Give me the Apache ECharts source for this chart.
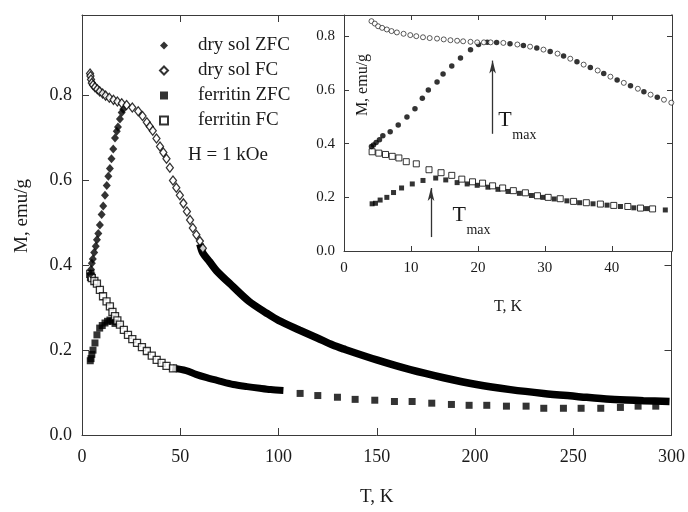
<!DOCTYPE html>
<html>
<head>
<meta charset="utf-8">
<script src="https://cdn.jsdelivr.net/npm/echarts@6/dist/echarts.min.js"></script>
<style>
  html, body { margin: 0; padding: 0; background: #fff; }
  #chart { width: 688px; height: 512px; }
</style>
</head>
<body>
<div id="chart"></div>
<script>
// main panel, low-T markers [T, M]
const mainDryZfc = [[4.3,0.38],[4.6,0.39],[5,0.405],[5.5,0.415],[6.2,0.43],[7,0.445],[7.6,0.46],[8.3,0.475],[9.1,0.495],[10,0.52],[10.8,0.54],[11.7,0.565],[12.6,0.588],[13.4,0.61],[14.2,0.628],[15,0.651],[15.9,0.674],[16.8,0.70],[17.7,0.716],[18.3,0.726],[19.3,0.745],[20.2,0.76],[21,0.768]];
const mainDryFc = [[4.1,0.852],[4.3,0.846],[4.6,0.838],[5,0.83],[5.6,0.825],[6.6,0.82],[7.8,0.815],[9,0.81],[10.5,0.805],[12,0.8],[13.9,0.795],[16,0.79],[18,0.786],[20.2,0.782],[22.7,0.778],[25.6,0.772],[28.6,0.763],[30.8,0.752],[33,0.737],[34.5,0.727],[36,0.717],[37.9,0.699],[39.7,0.68],[41.4,0.666],[43,0.651],[44.7,0.63],[46.3,0.60],[48,0.583],[49.8,0.565],[51.6,0.546],[53.4,0.527],[55,0.507],[56.4,0.488],[58.2,0.472],[60,0.457],[61.5,0.44]];
// dense part of the dry sol curve, drawn as a thick band
const mainDryTail = [[60,0.45],[61.5,0.429],[65,0.408],[68.5,0.387],[76.8,0.35],[85,0.315],[94,0.287],[100,0.27],[110.8,0.247],[120,0.228],[127.6,0.212],[133,0.203],[150,0.177],[167,0.154],[184,0.135],[200.8,0.119],[218,0.107],[234.9,0.098],[251.7,0.091],[268.9,0.084],[285.7,0.081],[299,0.079]];
const mainFerZfc = [[4.2,0.175],[4.6,0.18],[5,0.19],[5.6,0.2],[6.6,0.217],[7.6,0.236],[9,0.252],[10.3,0.258],[11.7,0.264],[13,0.268],[14.2,0.271],[15.5,0.268],[16.8,0.263]];
const mainFerFc = [[4.2,0.38],[4.6,0.373],[5,0.37],[6.3,0.363],[7.6,0.357],[9.1,0.342],[10.7,0.327],[12.5,0.315],[14.2,0.303],[15.5,0.29],[16.8,0.28],[18,0.27],[19.3,0.26],[21.3,0.248],[23.4,0.236],[25.6,0.226],[28,0.217],[30.5,0.207],[33,0.198],[35.5,0.187],[38,0.177],[40.5,0.17],[43,0.163],[46.3,0.157]];
const mainFerTail = [[46,0.158],[53,0.152],[58,0.143],[63.5,0.135],[70,0.127],[77,0.119],[84,0.114],[90.5,0.11],[96,0.107],[102.5,0.105]];
const mainFerSparse = [[111,0.098],[120,0.093],[130,0.089],[139,0.084],[149,0.082],[159,0.079],[168,0.079],[178,0.075],[188,0.072],[197,0.07],[206,0.07],[216,0.068],[226,0.068],[235,0.063],[245,0.063],[254,0.063],[264,0.063],[274,0.065],[283,0.068],[292,0.068]];

// inset panel
const insetDryZfc = [[4.1,0.39],[4.4,0.395],[4.8,0.405],[5.3,0.415],[5.8,0.43],[6.9,0.445],[8.1,0.47],[9.4,0.50],[10.6,0.53],[11.7,0.57],[12.6,0.60],[13.9,0.63],[14.8,0.66],[16.1,0.69],[17.4,0.72],[18.9,0.75],[20.1,0.77],[21.4,0.778],[22.8,0.777],[24.8,0.773],[26.8,0.766],[28.8,0.757],[30.8,0.744],[32.8,0.727],[34.8,0.706],[36.8,0.684],[38.8,0.662],[40.8,0.638],[42.8,0.616],[44.8,0.594],[46.8,0.573]];
const insetDryFc = [[4.1,0.857],[4.6,0.848],[5.1,0.838],[5.7,0.832],[6.4,0.826],[7.1,0.82],[7.9,0.815],[8.9,0.81],[9.9,0.805],[10.8,0.801],[11.8,0.797],[12.8,0.794],[13.9,0.792],[14.9,0.789],[15.9,0.786],[16.9,0.784],[17.8,0.782],[18.9,0.78],[19.9,0.778],[20.9,0.778],[21.9,0.778],[23.8,0.776],[25.9,0.77],[27.8,0.762],[29.8,0.751],[31.9,0.736],[33.8,0.717],[35.8,0.695],[37.9,0.673],[39.8,0.65],[41.8,0.627],[43.9,0.605],[45.8,0.583],[47.8,0.564],[48.9,0.553]];
const insetFerZfc = [[4.2,0.176],[4.7,0.178],[5.4,0.19],[6.4,0.2],[7.4,0.218],[8.6,0.235],[10.2,0.25],[11.8,0.263],[13.7,0.272],[15.2,0.265],[16.9,0.255],[18.4,0.25],[19.9,0.245],[21.5,0.238],[23,0.23],[24.5,0.222],[26.2,0.215],[28,0.207],[29.7,0.2],[31.4,0.194],[33.3,0.187],[35.2,0.18],[37.2,0.176],[39.3,0.171],[41.3,0.166],[43.3,0.161],[45.2,0.158],[48,0.153]];
const insetFerFc = [[4.2,0.37],[5.2,0.365],[6.2,0.36],[7.2,0.353],[8.2,0.347],[9.3,0.333],[10.8,0.325],[12.7,0.303],[14.5,0.292],[16.1,0.282],[17.6,0.268],[19.2,0.258],[20.7,0.253],[22.2,0.243],[23.7,0.235],[25.3,0.225],[27.1,0.217],[28.9,0.206],[30.5,0.2],[32.3,0.195],[34.3,0.185],[36.2,0.18],[38.3,0.175],[40.3,0.17],[42.4,0.166],[44.3,0.16],[46.1,0.157]];

// T_max arrows (from, to) and label anchors in inset coordinates
const tmaxArrows = [[[22.2,0.437],[22.2,0.71]], [[13,0.052],[13,0.235]]];
const tmaxLabels = [[23.05,0.488],[16.2,0.133]];

const legendNames = ['dry sol ZFC', 'dry sol FC', 'ferritin ZFC', 'ferritin FC'];

const serif = 'Liberation Serif, Times New Roman, serif';
const ink = '#1a1a1a';
const axisColor = '#3a3a3a';

function axisBase(extra) {
  return Object.assign({
    type: 'value',
    splitLine: { show: false },
    axisLine: { show: true, onZero: false, lineStyle: { color: axisColor, width: 1 } },
    axisTick: { show: true, inside: true, length: 7, lineStyle: { color: axisColor } },
    axisLabel: { show: false },
    z: 0
  }, extra);
}

const chart = echarts.init(document.getElementById('chart'));

const filled = { color: '#000' };
const hollow = { color: '#fff', borderColor: '#000', borderWidth: 1.3 };

chart.setOption({
  animation: false,
  backgroundColor: '#fff',
  grid: [
    { left: 82, top: 15, right: 16, bottom: 73 },
    { left: 344, top: 15, right: 16, bottom: 261, show: true, backgroundColor: '#fff', borderWidth: 0, z: 3 }
  ],
  legend: {
    data: legendNames,
    orient: 'vertical',
    left: 154,
    top: 31,
    itemWidth: 8,
    itemHeight: 8,
    itemGap: 6,
    selectedMode: false,
    textStyle: { fontFamily: serif, fontSize: 19, color: ink, lineHeight: 19, padding: [0, 0, 0, 25] }
  },
  xAxis: [
    axisBase({
      gridIndex: 0, position: 'bottom', min: 0, max: 300, interval: 50,
      axisLabel: { show: true, fontFamily: serif, fontSize: 18, color: ink, margin: 13 },
      name: 'T, K', nameLocation: 'middle', nameGap: 53,
      nameTextStyle: { fontFamily: serif, fontSize: 19, color: ink }
    }),
    axisBase({ gridIndex: 0, position: 'top', min: 0, max: 300, interval: 50 }),
    axisBase({
      gridIndex: 1, position: 'bottom', min: 0, max: 49, interval: 10, z: 4,
      axisTick: { show: true, inside: true, length: 5, lineStyle: { color: axisColor } },
      axisLabel: { show: true, fontFamily: serif, fontSize: 15, color: ink, margin: 10, showMaxLabel: false },
      name: 'T, K', nameLocation: 'middle', nameGap: 48,
      nameTextStyle: { fontFamily: serif, fontSize: 16, color: ink }
    }),
    axisBase({
      gridIndex: 1, position: 'top', min: 0, max: 49, interval: 10, z: 4,
      axisTick: { show: true, inside: true, length: 5, lineStyle: { color: axisColor } }
    })
  ],
  yAxis: [
    axisBase({
      gridIndex: 0, position: 'left', min: 0, max: 0.99, interval: 0.2,
      axisLabel: { show: true, fontFamily: serif, fontSize: 18, color: ink, margin: 10, showMaxLabel: false,
        formatter: v => v.toFixed(1) },
      name: 'M, emu/g', nameLocation: 'middle', nameGap: 50,
      nameTextStyle: { fontFamily: serif, fontSize: 19, color: ink, padding: [0, 0, 0, 18] }
    }),
    axisBase({ gridIndex: 0, position: 'right', min: 0, max: 0.99, interval: 0.2 }),
    axisBase({
      gridIndex: 1, position: 'left', min: 0, max: 0.88, interval: 0.2, z: 4,
      axisTick: { show: true, inside: true, length: 5, lineStyle: { color: axisColor } },
      axisLabel: { show: true, fontFamily: serif, fontSize: 15, color: ink, margin: 9, showMaxLabel: false,
        formatter: v => v.toFixed(1) }
    }),
    axisBase({
      gridIndex: 1, position: 'right', min: 0, max: 0.88, interval: 0.2, z: 4,
      axisTick: { show: true, inside: true, length: 5, lineStyle: { color: axisColor } }
    })
  ],
  series: [
    // main panel
    { name: 'dry sol tail', type: 'line', xAxisIndex: 0, yAxisIndex: 0, data: mainDryTail, smooth: 0.3,
      showSymbol: false, lineStyle: { color: '#000', width: 7.5 }, z: 2 },
    { name: 'ferritin tail', type: 'line', xAxisIndex: 0, yAxisIndex: 0, data: mainFerTail, smooth: 0.3,
      showSymbol: false, lineStyle: { color: '#000', width: 7 }, z: 2 },
    { name: 'ferritin ZFC', type: 'scatter', xAxisIndex: 0, yAxisIndex: 0, data: mainFerZfc,
      symbol: 'rect', symbolSize: 7, itemStyle: filled, z: 2 },
    { name: 'ferritin ZFC', type: 'scatter', xAxisIndex: 0, yAxisIndex: 0, data: mainFerSparse,
      symbol: 'rect', symbolSize: 7, itemStyle: filled, z: 2 },
    { name: 'ferritin FC', type: 'scatter', xAxisIndex: 0, yAxisIndex: 0, data: mainFerFc,
      symbol: 'rect', symbolSize: 7, itemStyle: hollow, z: 2 },
    { name: 'dry sol ZFC', type: 'scatter', xAxisIndex: 0, yAxisIndex: 0, data: mainDryZfc,
      symbol: 'diamond', symbolSize: [8, 9], itemStyle: filled, z: 2 },
    { name: 'dry sol FC', type: 'scatter', xAxisIndex: 0, yAxisIndex: 0, data: mainDryFc,
      symbol: 'diamond', symbolSize: [7, 9], itemStyle: hollow, z: 2 },
    // inset
    { name: 'i-ferritin ZFC', type: 'scatter', xAxisIndex: 2, yAxisIndex: 2, data: insetFerZfc,
      symbol: 'rect', symbolSize: 5, itemStyle: filled, z: 5 },
    { name: 'i-ferritin FC', type: 'scatter', xAxisIndex: 2, yAxisIndex: 2, data: insetFerFc,
      symbol: 'rect', symbolSize: 6, itemStyle: { color: '#fff', borderColor: '#000', borderWidth: 1 }, z: 5 },
    { name: 'i-dry sol ZFC', type: 'scatter', xAxisIndex: 2, yAxisIndex: 2, data: insetDryZfc,
      symbol: 'circle', symbolSize: 5.5, itemStyle: filled, z: 5 },
    { name: 'i-dry sol FC', type: 'scatter', xAxisIndex: 2, yAxisIndex: 2, data: insetDryFc,
      symbol: 'circle', symbolSize: 5, itemStyle: { color: '#fff', borderColor: '#000', borderWidth: 0.8 }, z: 5,
      markLine: {
        silent: true,
        symbol: ['none', 'arrow'],
        symbolSize: [5, 13],
        label: { show: false },
        lineStyle: { color: '#333', width: 1.3, type: 'solid' },
        data: tmaxArrows.map(a => [{ coord: a[0] }, { coord: a[1] }])
      }
    }
  ]
});

// text annotations placed through the inset's own scales
const gr = [
  { type: 'text', left: 188, top: 146, z: 10,
    style: { text: 'H = 1 kOe', font: '19px ' + serif, fill: ink } },
  { type: 'text', x: 363, y: 85, rotation: Math.PI / 2, z: 10,
    style: { text: 'M, emu/g', font: '16px ' + serif, fill: ink, align: 'center', verticalAlign: 'middle' } }
];
tmaxLabels.forEach(p => {
  const px = chart.convertToPixel({ xAxisIndex: 2, yAxisIndex: 2 }, p);
  gr.push({ type: 'text', x: px[0], y: px[1], z: 10,
    style: { text: 'T', font: '22px ' + serif, fill: ink, verticalAlign: 'middle' } });
  gr.push({ type: 'text', x: px[0] + 14, y: px[1] + 15, z: 10,
    style: { text: 'max', font: '14px ' + serif, fill: ink, verticalAlign: 'middle' } });
});
chart.setOption({ graphic: gr });
</script>
</body>
</html>
